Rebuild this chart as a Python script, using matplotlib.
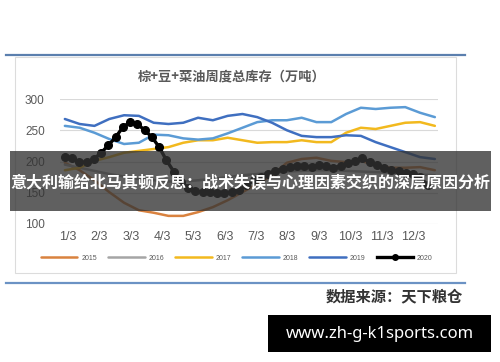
import numpy as np
import matplotlib
matplotlib.use("Agg")
import matplotlib.pyplot as plt
from matplotlib.patches import Rectangle
from matplotlib.lines import Line2D

plt.rcParams['font.family'] = ['Noto Sans CJK SC', 'DejaVu Sans']

# ---------------- data ----------------
title = "棕+豆+菜油周度总库存（万吨）"
month_labels = ["1/3", "2/3", "3/3", "4/3", "5/3", "6/3", "7/3", "8/3", "9/3", "10/3", "11/3", "12/3"]
y_ticks = [100, 150, 200, 250, 300]
years = ["2015", "2016", "2017", "2018", "2019", "2020"]

# bi-weekly series (26 points)
v2015 = [198, 186, 170, 151, 134, 122, 118, 113, 113, 119, 127, 138, 151, 164, 178, 198,
         204, 206, 201, 199, 201, 194, 190, 190, 191, 186]
v2016 = [195, 190, 185, 180, 176, 172, 170, 168, 168, 170, 172, 175, 178, 180, 182, 184,
         185, 186, 186, 185, 184, 183, 182, 180, 179, 178]
v2017 = [186, 190, 201, 207, 214, 217, 220, 223, 230, 234, 234, 238, 234, 230, 231, 231,
         234, 231, 231, 246, 254, 252, 257, 262, 263, 257]
v2018 = [257, 254, 246, 236, 228, 230, 243, 242, 237, 235, 237, 245, 254, 263, 266, 266,
         270, 263, 263, 276, 286, 284, 286, 287, 278, 271]
v2019 = [268, 260, 257, 268, 274, 273, 262, 260, 262, 270, 266, 273, 276, 271, 262, 250,
         241, 239, 239, 242, 241, 231, 223, 215, 207, 204]
# weekly series (51 points)
v2020 = [207, 206, 199, 199, 204, 214, 226, 239, 255, 263, 260, 250, 239, 223, 202, 184,
         168, 158, 153, 151, 151, 150, 150, 151, 154, 162, 170, 175, 180, 185, 188, 191,
         193, 193, 191, 194, 193, 190, 193, 198, 201, 206, 199, 194, 190, 186, 185, 182,
         180, 175, 162]

source_text = "数据来源：天下粮仓"
banner_text = "意大利输给北马其顿反思：战术失误与心理因素交织的深层原因分析"
url_text = "www.zh-g-k1sports.com"

colors = ["#d9823f", "#a5a5a5", "#f2b91e", "#5b9bd5", "#3f6fc0", "#000000"]

# x positions (months from 1/3)
x_bw = -0.1 + 0.472 * np.arange(len(v2015))
x_wk = -0.1 + 0.2314 * np.arange(len(v2020))

W, H = 500, 362
fig = plt.figure(figsize=(W / 100, H / 100), dpi=100)
fig.patch.set_facecolor("white")

def fx(px):
    return px / W

def fy(py):
    return 1 - py / H

# chart frame
fig.add_artist(Rectangle((fx(15), fy(273)), fx(456) - fx(15), fy(57) - fy(273),
                         transform=fig.transFigure, facecolor="none",
                         edgecolor="#dcdcdc", lw=0.8, zorder=1))
# blue rules
fig.add_artist(Line2D([fx(6), fx(465)], [fy(55), fy(55)], transform=fig.transFigure,
                      color="#5b7fae", lw=1.6, zorder=1))
fig.add_artist(Line2D([fx(6), fx(465)], [fy(283), fy(283)], transform=fig.transFigure,
                      color="#6b92c4", lw=1.6, zorder=1))

ax = fig.add_axes([fx(60), fy(224), fx(438) - fx(60), fy(99) - fy(224)])
ax.set_facecolor("none")
ax.set_xlim(-0.255, 11.8)
ax.set_ylim(100, 300)
ax.set_yticks(y_ticks)
ax.set_xticks(np.arange(len(month_labels)))
ax.set_xticklabels(month_labels)
ax.grid(axis="y", color="#d9d9d9", lw=0.8)
ax.set_axisbelow(True)
for s in ax.spines.values():
    s.set_visible(False)
ax.tick_params(length=0)
ax.tick_params(axis="y", pad=11, labelsize=8.5, labelcolor="#595959")
ax.tick_params(axis="x", pad=5, labelsize=9, labelcolor="#595959")
for lab in ax.get_xticklabels() + ax.get_yticklabels():
    lab.set_family("Liberation Sans")

series = [v2015, v2016, v2017, v2018, v2019]
handles = []
for vals, c, yr in zip(series, colors[:5], years[:5]):
    h, = ax.plot(x_bw, vals, color=c, lw=1.8, label=yr, solid_capstyle="round")
    handles.append(h)
h, = ax.plot(x_wk, v2020, color="black", lw=2.4, marker="o", markersize=5.5, label="2020")
handles.append(h)

fig.text(fx(232), fy(76), title, ha="center", va="center", fontsize=9.5,
         fontweight="bold", color="#595959")

leg = fig.legend(handles=handles, labels=years, loc="center", bbox_to_anchor=(fx(237), fy(258)),
                 ncol=6, frameon=False, fontsize=5, handlelength=5.2, handletextpad=0.6,
                 columnspacing=1.6, labelcolor="#595959")
for t in leg.get_texts():
    t.set_family("Liberation Sans")
for lh in leg.get_lines():
    if lh.get_marker() == "o":
        lh.set_markersize(4)
        lh.set_markevery([1])

fig.text(fx(463), fy(296), source_text, ha="right", va="center", fontsize=11,
         fontweight="bold", color="#333333")

# overlay banner
fig.add_artist(Rectangle((fx(10), fy(211)), fx(491) - fx(10), fy(151) - fy(211),
                         transform=fig.transFigure, facecolor="#333333", alpha=0.78,
                         edgecolor="none", zorder=10))
fig.text(fx(250.5), fy(183), banner_text, ha="center", va="center", fontsize=11.5,
         fontweight="bold", color="white", zorder=11)

# url box
fig.add_artist(Rectangle((fx(268), fy(352)), fx(491) - fx(268), fy(315) - fy(352),
                         transform=fig.transFigure, facecolor="black",
                         edgecolor="none", zorder=10))
fig.text(fx(379.5), fy(334), url_text, ha="center", va="center", fontsize=12,
         fontweight="bold", color="white", family=["Noto Sans", "DejaVu Sans"], zorder=11)

fig.savefig("out.png", dpi=100)
